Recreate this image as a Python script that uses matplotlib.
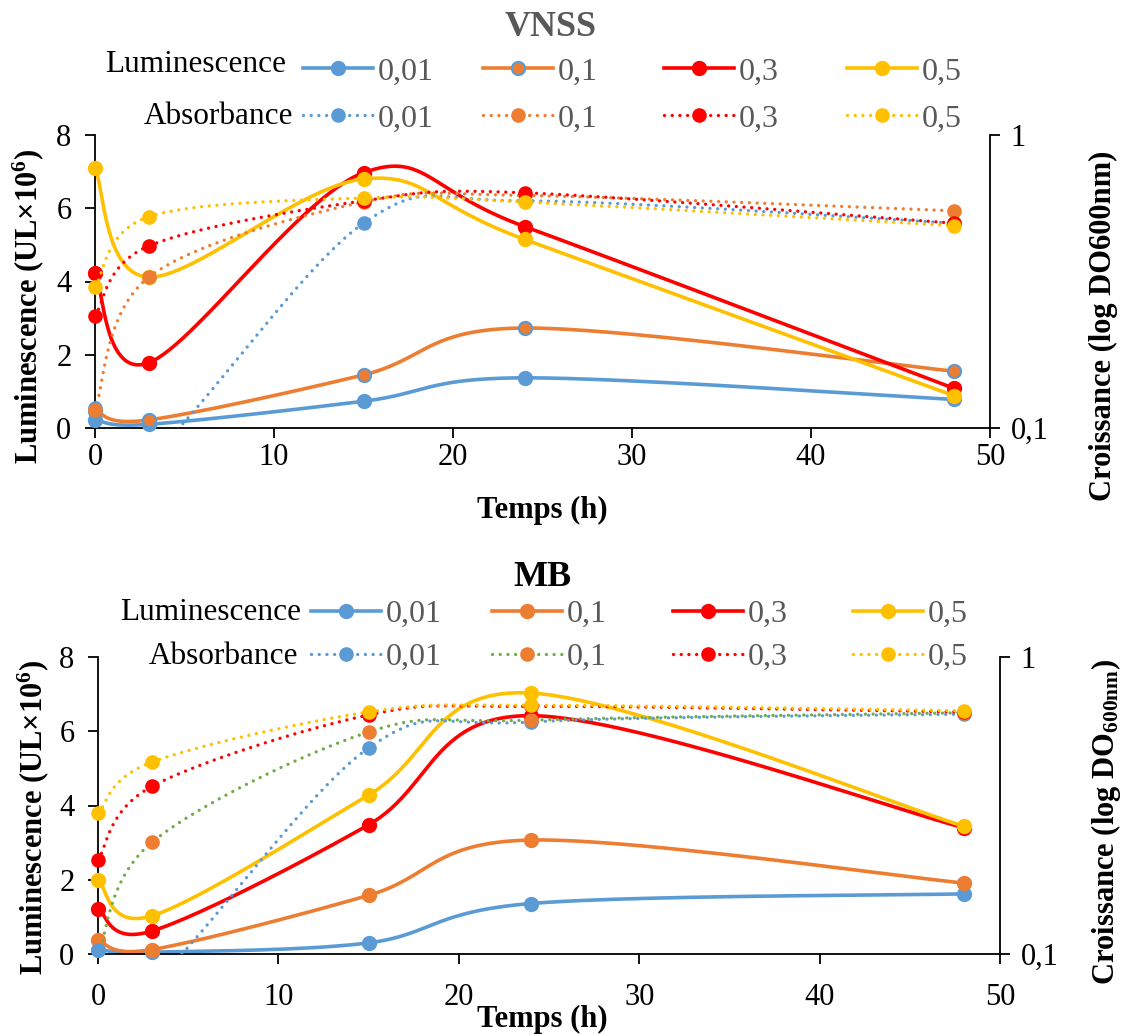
import numpy as np
import matplotlib
matplotlib.use('Agg')
from matplotlib import pyplot as plt
from matplotlib.lines import Line2D

plt.rcParams['font.family'] = ['Liberation Serif', 'DejaVu Serif']
plt.rcParams['mathtext.default'] = 'regular'

# time points (h)
temps = [0, 3, 15, 24, 48]
doses = ['0,01', '0,1', '0,3', '0,5']

# VNSS - luminescence (UL x 10^6)
vnss_lum = {
    '0,01': [0.22, 0.10, 0.73, 1.37, 0.78],
    '0,1': [0.46, 0.22, 1.45, 2.73, 1.55],
    '0,3': [4.22, 1.78, 6.97, 5.50, 1.08],
    '0,5': [7.10, 4.12, 6.80, 5.15, 0.88],
}
# VNSS - absorbance (DO600nm)
vnss_abs = {
    '0,01': [0.117, 0.080, 0.500, 0.596, 0.500],
    '0,1': [0.115, 0.327, 0.591, 0.622, 0.551],
    '0,3': [0.241, 0.418, 0.596, 0.635, 0.500],
    '0,5': [0.303, 0.526, 0.610, 0.591, 0.490],
}

# MB - luminescence
mb_lum = {
    '0,01': [0.12, 0.05, 0.30, 1.36, 1.62],
    '0,1': [0.37, 0.12, 1.58, 3.07, 1.91],
    '0,3': [1.22, 0.62, 3.48, 6.42, 3.40],
    '0,5': [2.00, 1.03, 4.28, 7.03, 3.44],
}
# MB - absorbance
mb_abs = {
    '0,01': [0.103, 0.080, 0.494, 0.604, 0.642],
    '0,1': [0.099, 0.238, 0.559, 0.613, 0.649],
    '0,3': [0.207, 0.367, 0.638, 0.682, 0.653],
    '0,5': [0.298, 0.443, 0.653, 0.688, 0.659],
}

BLUE = '#5B9BD5'
ORANGE = '#ED7D31'
RED = '#FF0000'
YELLOW = '#FFC000'
GREEN = '#70AD47'
GREY = '#595959'
DOT = (0, (0.01, 2.3))

W, H = 1129, 1034


def smooth(x, y, n=60):
    # excel-like smoothed line (cubic bezier through points)
    pts = np.column_stack([np.asarray(x, float), np.asarray(y, float)])
    ext = np.vstack([pts[0], pts, pts[-1]])
    out = []
    t = np.linspace(0, 1, n)[:, None]
    for i in range(len(pts) - 1):
        p0, p1, p2, p3 = ext[i], ext[i + 1], ext[i + 2], ext[i + 3]
        c1 = p1 + (p2 - p0) / 6
        c2 = p2 - (p3 - p1) / 6
        seg = (1 - t) ** 3 * p1 + 3 * (1 - t) ** 2 * t * c1 + 3 * (1 - t) * t ** 2 * c2 + t ** 3 * p2
        out.append(seg if i == 0 else seg[1:])
    c = np.vstack(out)
    return c[:, 0], c[:, 1]


def draw_panel(box, title, title_color, lum, ab, lum_style, abs_style,
               xlab_pad, lab_coords, right_label):
    ax = fig.add_axes([box[0] / W, 1 - box[3] / H, (box[2] - box[0]) / W, (box[3] - box[1]) / H])
    ax2 = ax.twinx()

    for d in doses:
        col, mfc, mec = lum_style[d]
        xs, ys = smooth(temps, lum[d])
        ax.plot(xs, ys, color=col, lw=2.6, solid_capstyle='round')
        ax.plot(temps, lum[d], 'o', color=mfc, mec=mec, mew=1.5, ms=9.5, clip_on=False, zorder=3)

    for d in doses:
        col, mfc = abs_style[d]
        a = np.asarray(ab[d])
        xs, ys = smooth(temps, np.log10(a))
        ax2.plot(xs, 10 ** ys, color=col, lw=2.4, linestyle=DOT, dash_capstyle='round')
        am = np.where(a >= 0.1, a, np.nan)
        ax2.plot(temps, am, 'o', color=mfc, mec=mfc, ms=9.5, clip_on=False, zorder=3)

    ax.set_xlim(0, 50)
    ax.set_ylim(0, 8)
    ax.set_xticks([0, 10, 20, 30, 40, 50])
    ax.set_yticks([0, 2, 4, 6, 8])
    ax2.set_yscale('log')
    ax2.set_ylim(0.1, 1)
    ax2.set_yticks([0.1, 1], labels=['0,1', '1'])
    ax2.yaxis.set_minor_locator(matplotlib.ticker.NullLocator())

    for a_ in (ax, ax2):
        a_.spines['top'].set_visible(False)
        for s in a_.spines.values():
            s.set_linewidth(1.3)
    ax.spines['right'].set_visible(False)
    ax2.spines['left'].set_visible(False)
    ax2.spines['bottom'].set_visible(False)

    ax.tick_params(axis='x', direction='out', length=7, width=1.3, labelsize=22, pad=xlab_pad)
    ax.tick_params(axis='y', direction='out', length=7, width=1.3, labelsize=22, pad=10)
    ax2.tick_params(axis='y', direction='out', length=7, width=1.3, labelsize=22, pad=8)

    ax.set_xlabel('Temps (h)', fontsize=22, fontweight='bold', va='center')
    ax.set_ylabel('Luminescence (UL×10$^6$)', fontsize=22, fontweight='bold', va='center', ha='center')
    ax2.set_ylabel(right_label, fontsize=22, fontweight='bold', va='center', ha='center')
    ax.xaxis.set_label_coords(*lab_coords[0])
    ax.yaxis.set_label_coords(*lab_coords[1])
    ax2.yaxis.set_label_coords(*lab_coords[2])

    fig.text(title[1] / W, 1 - title[2] / H, title[0], fontsize=26, fontweight='bold',
             color=title_color, ha='center', va='center')
    return ax, ax2


def draw_legend(rows, lum_style, abs_style):
    for (name, ty, ly, rx, hx, kind) in rows:
        fig.text(rx / W, 1 - ly / H, name, fontsize=22.5, ha='right', va='center')
        for d, x0 in zip(doses, hx):
            if kind == 'lum':
                col, mfc, mec = lum_style[d]
                h = Line2D([], [], color=col, lw=2.6, marker='o', ms=9.5, mfc=mfc, mec=mec, mew=1.5)
            else:
                col, mfc = abs_style[d]
                h = Line2D([], [], color=col, lw=2.4, linestyle=DOT, dash_capstyle='round',
                           marker='o', ms=9.5, mfc=mfc, mec=mfc)
            fig.legend(handles=[h], labels=[d], loc='center left',
                       bbox_to_anchor=(x0 / W, 1 - ty / H), frameon=False,
                       prop={'size': 23}, labelcolor=GREY, handlelength=2.2,
                       handletextpad=0.15, borderpad=0, borderaxespad=0)


fig = plt.figure(figsize=(W / 100, H / 100), dpi=100)

# VNSS panel
vnss_lum_style = {'0,01': (BLUE, BLUE, BLUE), '0,1': (ORANGE, ORANGE, BLUE),
                  '0,3': (RED, RED, RED), '0,5': (YELLOW, YELLOW, YELLOW)}
vnss_abs_style = {'0,01': (BLUE, BLUE), '0,1': (ORANGE, ORANGE),
                  '0,3': (RED, RED), '0,5': (YELLOW, YELLOW)}
draw_panel((95, 135, 990, 428), ('VNSS', 551, 27), GREY, vnss_lum, vnss_abs,
           vnss_lum_style, vnss_abs_style, 4,
           [(0.4994, -0.283), (-0.0749, 0.4164), (1.1263, 0.35)],
           'Croissance (log DO600nm)')
draw_legend([('Luminescence', 72, 64, 286, [303, 483, 664, 847], 'lum'),
             ('Absorbance', 119, 117, 293, [303, 483, 664, 847], 'abs')],
            vnss_lum_style, vnss_abs_style)

# MB panel
mb_lum_style = {'0,01': (BLUE, BLUE, BLUE), '0,1': (ORANGE, ORANGE, ORANGE),
                '0,3': (RED, RED, RED), '0,5': (YELLOW, YELLOW, YELLOW)}
mb_abs_style = {'0,01': (BLUE, BLUE), '0,1': (GREEN, ORANGE),
                '0,3': (RED, RED), '0,5': (YELLOW, YELLOW)}
draw_panel((98, 657, 1000, 954), ('MB', 542, 577), 'black', mb_lum, mb_abs,
           mb_lum_style, mb_abs_style, 14,
           [(0.4922, -0.222), (-0.0721, 0.461), (1.1175, 0.445)],
           'Croissance (log DO$_{600nm}$)')
draw_legend([('Luminescence', 614, 613, 301, [311, 492, 673, 853], 'lum'),
             ('Absorbance', 657, 657, 298, [311, 492, 673, 853], 'abs')],
            mb_lum_style, mb_abs_style)

fig.savefig('out.png', dpi=100)
